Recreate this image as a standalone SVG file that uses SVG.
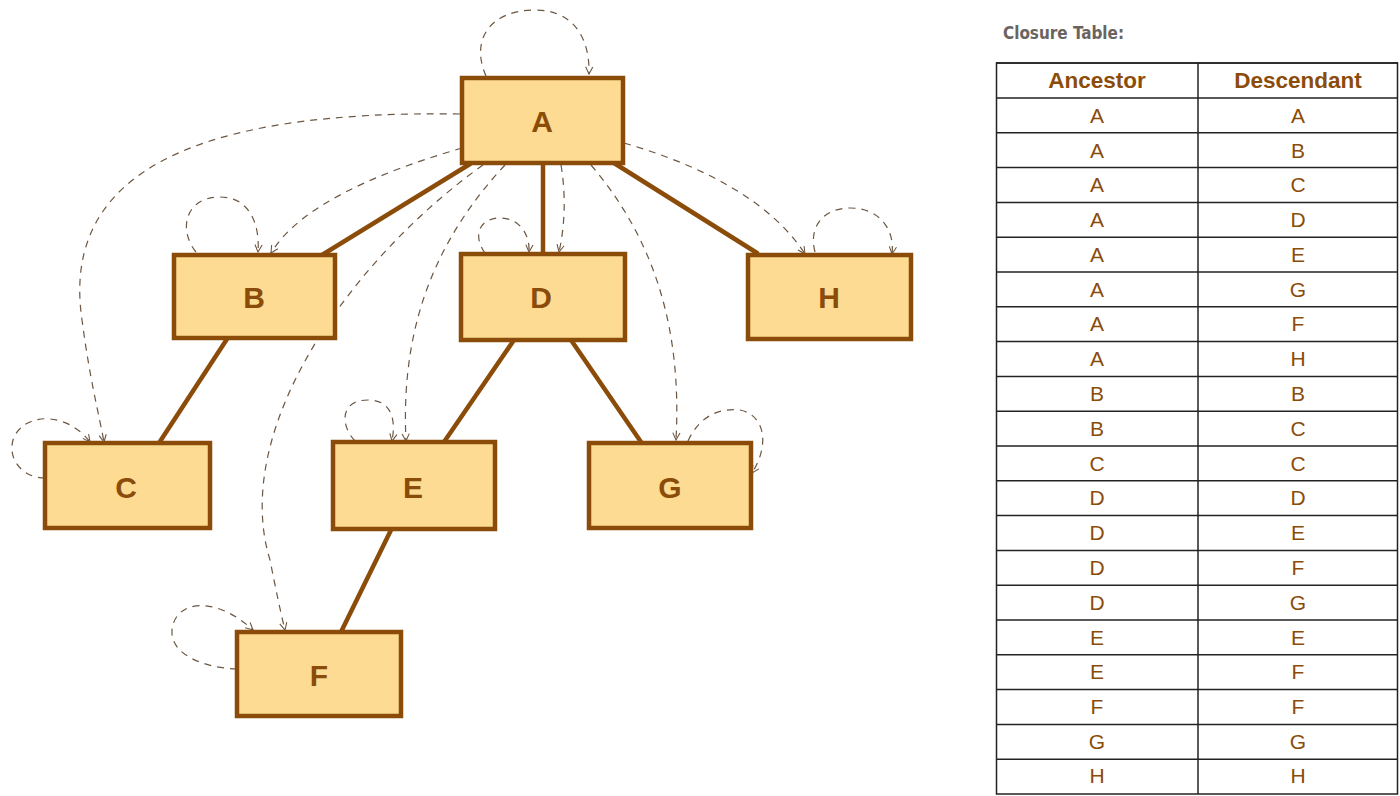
<svg xmlns="http://www.w3.org/2000/svg" width="1400" height="796" viewBox="0 0 1400 796">
<defs>
<marker id="arr" viewBox="0 0 10 10" refX="9" refY="5" markerWidth="9" markerHeight="9" orient="auto" markerUnits="userSpaceOnUse">
<path d="M1,1 L9,5 L1,9" fill="none" stroke="#6b5642" stroke-width="1.2"/>
</marker>
<style>
.node rect{fill:#fddb92;stroke:#8b4c0a;stroke-width:4.5}
.node text{font-family:"Liberation Sans",Arial,sans-serif;font-weight:bold;font-size:30px;fill:#8b4c0a;text-anchor:middle}
.tree line{stroke:#8b4c0a;stroke-width:4.5;stroke-linecap:round}
.dash path{fill:none;stroke:#6b5642;stroke-width:1.2;stroke-dasharray:7 6;marker-end:url(#arr)}
.tl{stroke:#222;stroke-width:1.5}
.th{font-family:"Liberation Sans",Arial,sans-serif;font-weight:bold;font-size:22.5px;fill:#8b4c0a;text-anchor:middle}
.td{font-family:"Liberation Sans",Arial,sans-serif;font-size:21px;fill:#8b4c0a;text-anchor:middle}
</style>
</defs>
<rect width="1400" height="796" fill="#fff"/>
<g id="connectors">
<g class="tree">
<line x1="470" y1="164" x2="322" y2="255"/>
<line x1="543" y1="163" x2="543" y2="254"/>
<line x1="614" y1="163" x2="757" y2="253"/>
<line x1="227" y1="339" x2="159" y2="443"/>
<line x1="514" y1="340" x2="444" y2="442"/>
<line x1="571" y1="340" x2="641" y2="442"/>
<line x1="391" y1="530" x2="341" y2="632"/>
</g>
<g class="dash">
<path d="M486,76 C470,40 490,10 535,10 C575,10 590,40 589,74"/>
<path d="M460,114 C200,110 60,170 82,320 C90,380 98,410 104,442"/>
<path d="M462,148 C380,172 300,205 271,253"/>
<path d="M483,165 C350,260 230,430 270,560 C276,590 280,610 285,630"/>
<path d="M505,165 C440,235 400,320 406,441"/>
<path d="M561,165 C566,195 565,225 559,252"/>
<path d="M591,165 C655,240 682,330 676,440"/>
<path d="M624,143 C700,165 770,200 805,254"/>
<path d="M196,252 C178,230 185,197 220,197 C250,197 260,225 258,252"/>
<path d="M485,253 C472,235 480,218 500,218 C520,218 530,235 529,252"/>
<path d="M815,252 C808,225 825,208 850,208 C880,208 895,230 892,254"/>
<path d="M45,478 C20,478 5,455 15,435 C30,410 70,415 90,442"/>
<path d="M355,441 C340,425 340,400 368,400 C392,400 396,420 392,441"/>
<path d="M688,441 C700,415 720,408 740,410 C765,415 770,445 752,473"/>
<path d="M237,669 C205,668 170,655 172,630 C175,600 215,595 253,630"/>
</g>
</g>
<g id="node-A" class="node"><rect x="462" y="78" width="161" height="85"/><text x="542" y="132">A</text></g>
<g id="node-B" class="node"><rect x="174" y="255" width="161" height="83"/><text x="254" y="308">B</text></g>
<g id="node-D" class="node"><rect x="461" y="254" width="164" height="86"/><text x="541" y="308">D</text></g>
<g id="node-H" class="node"><rect x="748" y="255" width="163" height="84"/><text x="829" y="308">H</text></g>
<g id="node-C" class="node"><rect x="45" y="443" width="165" height="85"/><text x="126" y="498">C</text></g>
<g id="node-E" class="node"><rect x="333" y="442" width="162" height="87"/><text x="413" y="498">E</text></g>
<g id="node-G" class="node"><rect x="589" y="443" width="162" height="85"/><text x="670" y="498">G</text></g>
<g id="node-F" class="node"><rect x="237" y="632" width="164" height="84"/><text x="319" y="686">F</text></g>
<g id="table">
<text x="1003" y="39" font-family="'DejaVu Sans Condensed','DejaVu Sans',sans-serif" font-weight="bold" font-size="18" textLength="121" lengthAdjust="spacingAndGlyphs" fill="#6a6460">Closure Table:</text>
<rect x="996.5" y="63" width="401" height="731" fill="none" stroke="#222" stroke-width="1.5"/>
<line class="tl" x1="996" y1="63" x2="1398" y2="63" stroke-width="2.5"/>
<line class="tl" x1="996" y1="98" x2="1398" y2="98" stroke-width="2"/>
<line class="tl" x1="1198" y1="63" x2="1198" y2="794" stroke-width="2"/>
<g>
<line class="tl" x1="996" y1="132.8" x2="1398" y2="132.8"/>
<line class="tl" x1="996" y1="167.6" x2="1398" y2="167.6"/>
<line class="tl" x1="996" y1="202.4" x2="1398" y2="202.4"/>
<line class="tl" x1="996" y1="237.2" x2="1398" y2="237.2"/>
<line class="tl" x1="996" y1="272" x2="1398" y2="272"/>
<line class="tl" x1="996" y1="306.8" x2="1398" y2="306.8"/>
<line class="tl" x1="996" y1="341.6" x2="1398" y2="341.6"/>
<line class="tl" x1="996" y1="376.4" x2="1398" y2="376.4"/>
<line class="tl" x1="996" y1="411.2" x2="1398" y2="411.2"/>
<line class="tl" x1="996" y1="446" x2="1398" y2="446"/>
<line class="tl" x1="996" y1="480.8" x2="1398" y2="480.8"/>
<line class="tl" x1="996" y1="515.6" x2="1398" y2="515.6"/>
<line class="tl" x1="996" y1="550.4" x2="1398" y2="550.4"/>
<line class="tl" x1="996" y1="585.2" x2="1398" y2="585.2"/>
<line class="tl" x1="996" y1="620" x2="1398" y2="620"/>
<line class="tl" x1="996" y1="654.8" x2="1398" y2="654.8"/>
<line class="tl" x1="996" y1="689.6" x2="1398" y2="689.6"/>
<line class="tl" x1="996" y1="724.4" x2="1398" y2="724.4"/>
<line class="tl" x1="996" y1="759.2" x2="1398" y2="759.2"/>
</g>
<text class="th" x="1097" y="88">Ancestor</text>
<text class="th" x="1298" y="88">Descendant</text>
<g class="td">
<text class="td" x="1097" y="123">A</text><text class="td" x="1298" y="123">A</text>
<text class="td" x="1097" y="158">A</text><text class="td" x="1298" y="158">B</text>
<text class="td" x="1097" y="192">A</text><text class="td" x="1298" y="192">C</text>
<text class="td" x="1097" y="227">A</text><text class="td" x="1298" y="227">D</text>
<text class="td" x="1097" y="262">A</text><text class="td" x="1298" y="262">E</text>
<text class="td" x="1097" y="297">A</text><text class="td" x="1298" y="297">G</text>
<text class="td" x="1097" y="331">A</text><text class="td" x="1298" y="331">F</text>
<text class="td" x="1097" y="366">A</text><text class="td" x="1298" y="366">H</text>
<text class="td" x="1097" y="401">B</text><text class="td" x="1298" y="401">B</text>
<text class="td" x="1097" y="436">B</text><text class="td" x="1298" y="436">C</text>
<text class="td" x="1097" y="471">C</text><text class="td" x="1298" y="471">C</text>
<text class="td" x="1097" y="505">D</text><text class="td" x="1298" y="505">D</text>
<text class="td" x="1097" y="540">D</text><text class="td" x="1298" y="540">E</text>
<text class="td" x="1097" y="575">D</text><text class="td" x="1298" y="575">F</text>
<text class="td" x="1097" y="610">D</text><text class="td" x="1298" y="610">G</text>
<text class="td" x="1097" y="645">E</text><text class="td" x="1298" y="645">E</text>
<text class="td" x="1097" y="679">E</text><text class="td" x="1298" y="679">F</text>
<text class="td" x="1097" y="714">F</text><text class="td" x="1298" y="714">F</text>
<text class="td" x="1097" y="749">G</text><text class="td" x="1298" y="749">G</text>
<text class="td" x="1097" y="783">H</text><text class="td" x="1298" y="783">H</text>
</g>
</g>
</svg>
